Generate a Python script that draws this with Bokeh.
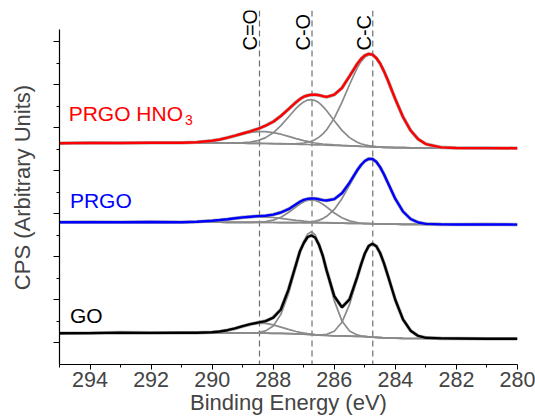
from math import pi
from bokeh.plotting import figure
from bokeh.models import Range1d, FixedTicker, Span, Label, CustomLabelingPolicy
from bokeh.embed import file_html
from bokeh.resources import INLINE

# ---------------- data (binding energy in eV, intensity in arbitrary units) -------------
energy_env = [295.0, 294.0, 293.0, 292.0, 291.0,
              290.5, 290.0, 289.75, 289.5, 289.25, 289.0, 288.75, 288.5, 288.25, 288.0,
              287.75, 287.5, 287.25, 287.125, 287.0, 286.875, 286.75, 286.625, 286.5, 286.375,
              286.25, 286.0, 285.75, 285.5, 285.25, 285.125, 285.0, 284.875, 284.75, 284.625,
              284.5, 284.375, 284.25, 284.0, 283.75, 283.5, 283.25, 283.0, 282.5,
              282.0, 281.0, 280.0]
energy_fit = [290.5, 290.0, 289.75, 289.5, 289.25, 289.0, 288.75, 288.5, 288.25, 288.0,
              287.75, 287.5, 287.25, 287.125, 287.0, 286.875, 286.75, 286.625, 286.5, 286.375,
              286.25, 286.0, 285.75, 285.5, 285.25, 285.125, 285.0, 284.875, 284.75, 284.625,
              284.5, 284.375, 284.25, 284.0, 283.75, 283.5, 283.25, 283.0, 282.5]

# GO
go_env = [31.2, 31.4, 31.9, 31.6, 31.7,
          31.7, 32.2, 33.0, 34.3, 36.1, 38.3, 40.3, 41.9, 43.4, 46.9,
          55.0, 74.9, 100.5, 113.3, 121.5, 127.5, 129.0, 127.0, 119.5, 108.5,
          93.9, 68.2, 57.2, 65.2, 87.4, 99.9, 111.0, 118.4, 120.8, 118.3,
          111.5, 101.4, 89.3, 64.5, 45.1, 33.8, 28.6, 26.7, 26.1,
          26.0, 25.8, 25.7]
go_base = [31.6, 31.6, 31.6, 31.6, 31.5, 31.5, 31.4, 31.4, 31.3, 31.2,
           31.1, 30.9, 30.6, 30.4, 30.3, 30.1, 29.9, 29.6, 29.4, 29.2,
           29.0, 28.7, 28.6, 28.4, 28.2, 28.0, 27.8, 27.6, 27.3, 27.1,
           26.9, 26.7, 26.5, 26.3, 26.1, 26.0, 26.0, 26.0, 26.0]
go_cdo = [31.7, 32.2, 33.0, 34.3, 36.1, 38.3, 40.2, 41.3, 41.1, 39.6,
          37.4, 35.1, 33.0, 32.1, 31.5, 30.9, 30.4, 29.9, 29.6, 29.3,
          29.1, 28.7, 28.6, 28.4, 28.2, 28.0, 27.8, 27.6, 27.3, 27.1,
          26.9, 26.7, 26.5, 26.3, 26.1, 26.0, 26.0, 26.0, 26.0]
go_co = [31.6, 31.6, 31.6, 31.6, 31.5, 31.5, 31.5, 32.0, 33.6, 38.5,
         50.1, 70.7, 98.1, 111.6, 123.0, 130.4, 132.9, 129.5, 120.7, 107.8,
         92.6, 63.6, 43.6, 33.5, 29.6, 28.6, 28.1, 27.6, 27.3, 27.1,
         26.9, 26.7, 26.5, 26.3, 26.1, 26.0, 26.0, 26.0, 26.0]
go_cc = [31.6, 31.6, 31.6, 31.6, 31.5, 31.5, 31.4, 31.4, 31.3, 31.2,
         31.1, 30.9, 30.6, 30.4, 30.3, 30.1, 29.9, 29.7, 29.7, 29.8,
         30.2, 33.3, 42.2, 60.1, 86.0, 99.3, 110.7, 118.3, 120.8, 118.3,
         111.5, 101.4, 89.3, 64.5, 45.1, 33.8, 28.6, 26.7, 26.1]

# PRGO
prgo_env = [142.2, 142.4, 142.3, 142.5, 142.3,
            142.7, 143.8, 144.5, 145.3, 146.2, 147.1, 147.8, 148.4, 148.8, 149.9,
            152.0, 155.3, 160.3, 162.7, 164.6, 165.6, 166.0, 165.9, 165.2, 164.4,
            164.0, 165.4, 171.3, 181.8, 194.2, 199.5, 203.5, 205.6, 205.5, 202.7,
            197.4, 190.3, 182.0, 165.6, 153.0, 145.5, 142.0, 140.6, 140.1,
            140.0, 140.1, 139.9]
prgo_base = [142.3, 142.3, 142.3, 142.2, 142.2, 142.2, 142.1, 142.1, 142.0, 142.0,
             141.9, 141.9, 141.8, 141.8, 141.7, 141.7, 141.6, 141.6, 141.6, 141.5,
             141.5, 141.4, 141.3, 141.2, 141.1, 141.0, 140.9, 140.8, 140.7, 140.6,
             140.5, 140.5, 140.4, 140.3, 140.2, 140.1, 140.1, 140.1, 140.1]
prgo_cdo = [142.7, 143.4, 144.1, 144.8, 145.7, 146.6, 147.2, 147.6, 147.4, 147.0,
            146.1, 145.2, 144.2, 143.8, 143.3, 143.0, 142.6, 142.4, 142.2, 141.9,
            141.8, 141.6, 141.4, 141.2, 141.1, 141.0, 140.9, 140.8, 140.7, 140.6,
            140.5, 140.5, 140.4, 140.3, 140.2, 140.1, 140.1, 140.1, 140.1]
prgo_co = [142.3, 142.3, 142.3, 142.2, 142.2, 142.2, 142.2, 142.4, 142.9, 144.4,
           147.3, 152.0, 157.8, 160.5, 162.7, 164.2, 164.6, 164.1, 162.6, 160.2,
           157.5, 151.5, 146.7, 143.6, 142.0, 141.5, 141.2, 141.0, 140.8, 140.6,
           140.5, 140.5, 140.4, 140.3, 140.2, 140.1, 140.1, 140.1, 140.1]
prgo_cc = [142.3, 142.3, 142.3, 142.2, 142.2, 142.2, 142.1, 142.1, 142.0, 142.0,
           141.9, 141.9, 141.9, 142.0, 142.0, 142.3, 142.7, 143.4, 144.4, 145.9,
           148.2, 155.1, 165.8, 179.4, 193.3, 199.0, 203.2, 205.4, 205.5, 202.7,
           197.4, 190.3, 182.0, 165.6, 153.0, 145.5, 142.0, 140.6, 140.1]

# PRGO HNO3
hno3_env = [221.3, 221.6, 221.5, 221.8, 221.7,
            222.3, 223.8, 225.0, 226.8, 228.8, 231.0, 233.2, 235.7, 238.8, 242.8,
            248.5, 255.3, 262.3, 265.4, 267.8, 269.0, 269.8, 269.9, 269.3, 268.3,
            267.6, 269.8, 276.5, 288.4, 300.5, 305.5, 309.0, 310.6, 309.9, 306.5,
            301.0, 293.4, 284.5, 265.2, 247.5, 234.0, 225.2, 220.4, 217.1,
            216.5, 216.4, 216.3]
hno3_base = [221.6, 221.6, 221.5, 221.5, 221.4, 221.3, 221.2, 221.1, 221.0, 220.8,
             220.7, 220.5, 220.3, 220.2, 220.1, 220.0, 219.8, 219.7, 219.6, 219.5,
             219.4, 219.2, 218.9, 218.6, 218.3, 218.1, 218.0, 217.8, 217.7, 217.5,
             217.4, 217.2, 217.1, 216.9, 216.8, 216.7, 216.6, 216.6, 216.6]
hno3_cdo = [222.3, 223.8, 225.0, 226.7, 228.6, 230.5, 232.0, 232.9, 232.9, 231.9,
            230.3, 228.1, 225.9, 224.9, 223.9, 223.1, 222.2, 221.5, 221.0, 220.5,
            220.2, 219.6, 219.1, 218.7, 218.3, 218.1, 218.0, 217.8, 217.7, 217.5,
            217.4, 217.2, 217.1, 216.9, 216.8, 216.7, 216.6, 216.6, 216.6]
hno3_co = [221.6, 221.6, 221.5, 221.5, 221.6, 221.8, 222.4, 223.9, 226.9, 231.7,
           238.9, 247.5, 256.2, 259.8, 262.6, 264.4, 264.8, 263.9, 261.7, 258.1,
           253.7, 243.7, 234.1, 226.9, 222.2, 220.7, 219.6, 218.8, 218.3, 217.8,
           217.6, 217.2, 217.1, 216.9, 216.8, 216.7, 216.6, 216.6, 216.6]
hno3_cc = [221.6, 221.6, 221.5, 221.5, 221.4, 221.3, 221.2, 221.1, 221.0, 220.8,
           220.8, 220.7, 220.8, 221.1, 221.5, 222.3, 223.3, 225.0, 227.4, 230.6,
           234.8, 246.4, 262.1, 280.0, 296.6, 302.9, 307.4, 309.6, 309.3, 306.2,
           300.8, 293.3, 284.5, 265.2, 247.5, 234.0, 225.2, 220.4, 217.1]

peak_names = ["C=O", "C-O", "C-C"]
peak_energy = [288.45, 286.73, 284.74]

x_major = [294, 292, 290, 288, 286, 284, 282, 280]
x_minor = [295, 293, 291, 289, 287, 285, 283, 281]

# ---------------- figure -------------
FONT = "Liberation Sans"
p = figure(width=535, height=418, x_range=Range1d(295, 280), y_range=Range1d(0, 354),
           output_backend="svg", toolbar_location=None,
           min_border_left=59, min_border_right=18, min_border_top=10, min_border_bottom=54)
p.outline_line_color = None
p.xgrid.visible = False
p.ygrid.visible = False
p.background_fill_color = "white"
p.border_fill_color = "white"

for e in peak_energy:
    p.add_layout(Span(location=e, dimension="height", line_color="#6e6e6e",
                      line_width=1.2, line_dash="6 4", level="underlay"))

gray = "#8a8a8a"
series = [
    (go_env, go_base, go_cdo, go_co, go_cc, "black"),
    (prgo_env, prgo_base, prgo_cdo, prgo_co, prgo_cc, "#0000ff"),
    (hno3_env, hno3_base, hno3_cdo, hno3_co, hno3_cc, "#ff0000"),
]
for env, base, cdo, co, cc, col in series:
    p.line(energy_fit, base, line_color=gray, line_width=1.7)
    for comp in (cdo, co, cc):
        p.line(energy_fit, comp, line_color=gray, line_width=1.7)
    p.line(energy_env, env, line_color="#9a9a9a", line_width=3.6, line_alpha=0.8)
    p.line(energy_env, env, line_color=col, line_width=2.4)

# axes
xa = p.xaxis[0]
xa.ticker = FixedTicker(ticks=x_major, minor_ticks=x_minor)
xa.axis_label = "Binding Energy (eV)"
xa.axis_label_text_font = FONT
xa.axis_label_text_font_style = "normal"
xa.axis_label_text_font_size = "22px"
xa.axis_label_standoff = 0
xa.major_label_text_font = FONT
xa.major_label_text_font_size = "21.5px"
xa.major_label_standoff = 2
xa.major_tick_out = 5
xa.major_tick_in = 0
xa.minor_tick_out = 3
xa.minor_tick_in = 0
xa.axis_line_width = 1.2

y_major = [21.7 + 43 * k for k in range(8)]
ya = p.yaxis[0]
ya.ticker = FixedTicker(ticks=y_major, minor_ticks=[43.2 + 43 * k for k in range(7)])
ya.bounds = (0, 335)
ya.major_label_overrides = {t: "" for t in y_major}
ya.major_label_policy = CustomLabelingPolicy(
    code="for (const i of indices) { indices.unset(i) } return indices")
ya.major_label_standoff = 0
ya.axis_label = "CPS (Arbitrary Units)"
ya.axis_label_text_font = FONT
ya.axis_label_text_font_style = "normal"
ya.axis_label_text_font_size = "22px"
ya.axis_label_standoff = 19
ya.major_tick_out = 6
ya.major_tick_in = 0
ya.minor_tick_out = 3
ya.minor_tick_in = 0
ya.axis_line_width = 1.2

# peak labels
for name, e in zip(peak_names, peak_energy):
    p.add_layout(Label(x=e + 0.3, y=314, text=name, angle=pi / 2,
                       text_font=FONT, text_font_size="20px", text_color="black",
                       text_align="left", text_baseline="alphabetic"))

# series labels
p.add_layout(Label(x=294.66, y=49, text="GO", text_font=FONT, text_font_size="21px",
                   text_color="black", text_baseline="alphabetic"))
p.add_layout(Label(x=294.66, y=164, text="PRGO", text_font=FONT, text_font_size="21px",
                   text_color="#0000ff", text_baseline="alphabetic"))
p.add_layout(Label(x=294.7, y=251.5, text="PRGO HNO", text_font=FONT, text_font_size="21px",
                   text_color="#ff0000", text_baseline="alphabetic"))
p.add_layout(Label(x=290.89, y=244.5, text="3", text_font=FONT, text_font_size="14px",
                   text_color="#ff0000", text_baseline="alphabetic"))

open("out.html", "w").write(file_html(p, INLINE))
